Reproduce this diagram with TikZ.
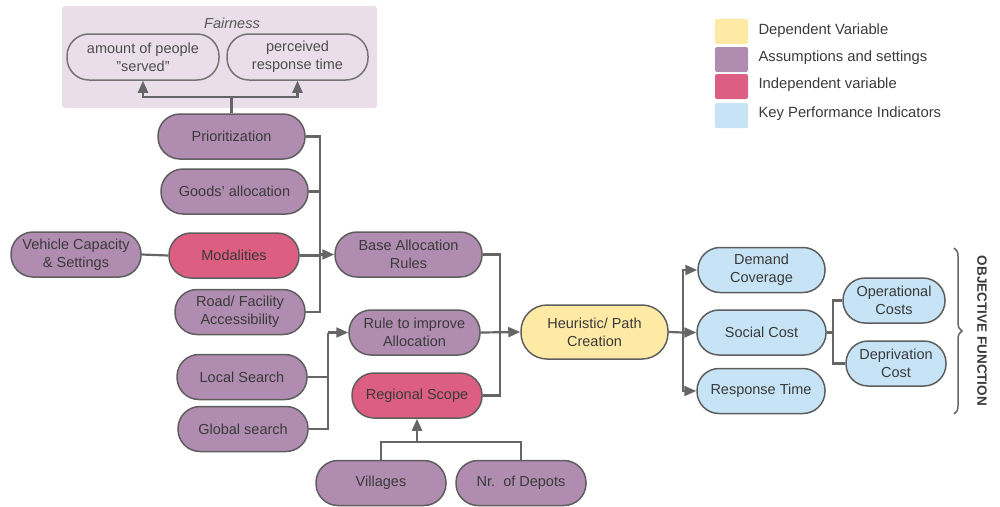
\documentclass[tikz,border=0pt]{standalone}
\usepackage{fontspec}
\setmainfont{Liberation Sans}
\usetikzlibrary{arrows.meta,decorations.pathreplacing}
\definecolor{purp}{HTML}{B08DB0}
\definecolor{pinkc}{HTML}{DC5E82}
\definecolor{yell}{HTML}{FFEAA5}
\definecolor{bluec}{HTML}{C6E4F5}
\definecolor{fairbg}{HTML}{E9DEE9}
\definecolor{linec}{HTML}{666666}
\definecolor{borderc}{HTML}{5E5E5E}
\definecolor{txtc}{HTML}{3A3A3A}
\tikzset{
  pill/.style={draw=borderc, line width=1.5pt, rounded corners=22pt, minimum height=45pt, inner sep=0pt, align=center, text=txtc, font=\fontsize{14.5}{18}\selectfont},
  ap/.style={pill, fill=purp},
  ip/.style={pill, fill=pinkc},
  dp/.style={pill, fill=yell},
  kp/.style={pill, fill=bluec},
  fp/.style={pill, draw=linec!90, fill=fairbg, text=txtc!90},
  conn/.style={draw=linec, line width=2.2pt},
  arr/.style={conn, -{Triangle[length=12pt,width=10pt]}},
  legsq/.style={rounded corners=2pt, minimum width=33pt, minimum height=25pt, inner sep=0pt},
  legtxt/.style={anchor=west, text=txtc, font=\fontsize{14.8}{18}\selectfont},
}
\begin{document}
\begin{tikzpicture}[x=1pt,y=-1pt]
\useasboundingbox (0,0) rectangle (1000,506);
% Fairness group
\node[fill=fairbg, rounded corners=3pt, minimum width=315pt, minimum height=102pt, inner sep=0pt] (fairbox) at (219.5,57) {};
\node[text=txtc!85, font=\itshape\fontsize{14.5}{18}\selectfont] (fairt) at (232,23) {Fairness};
\node[fp, minimum width=152pt, minimum height=46pt] (amount) at (143,57) {amount of people\\\symbol{34}served\symbol{34}};
\node[fp, minimum width=141pt, minimum height=46pt] (perc) at (297.5,57) {perceived\\response time};

% Assumption nodes
\node[ap, minimum width=147pt] (prio) at (231.5,136.5) {Prioritization};
\node[ap, minimum width=147pt] (goods) at (234.5,191.5) {Goods\symbol{39} allocation};
\node[ap, minimum width=130pt] (veh) at (76,254.5) {Vehicle Capacity\\\& Settings};
\node[ip, minimum width=130pt] (mod) at (234,255.5) {Modalities};
\node[ap, minimum width=130pt] (road) at (240,312) {Road/ Facility\\Accessibility};
\node[ap, minimum width=147pt] (base) at (408.5,254.5) {Base Allocation\\Rules};
\node[ap, minimum width=131pt] (rule) at (414.5,332.5) {Rule to improve\\Allocation};
\node[ap, minimum width=130pt] (local) at (242,377) {Local Search};
\node[ap, minimum width=130pt] (global) at (243,429) {Global search};
\node[ip, minimum width=130pt] (reg) at (417,395.5) {Regional Scope};
\node[ap, minimum width=130pt] (vill) at (381,483) {Villages};
\node[ap, minimum width=130pt] (depots) at (521,483) {Nr.\ \ of Depots};
\node[dp, minimum width=147pt, minimum height=54pt, rounded corners=26pt] (heur) at (594.5,332) {Heuristic/ Path\\Creation};

% KPIs
\node[kp, minimum width=127pt] (dem) at (761.5,270) {Demand\\Coverage};
\node[kp, minimum width=129pt] (soc) at (761.5,332.5) {Social Cost};
\node[kp, minimum width=128pt] (resp) at (761,391) {Response Time};
\node[kp, minimum width=102pt] (oper) at (894,300.5) {Operational\\Costs};
\node[kp, minimum width=100pt] (depr) at (896,363.5) {Deprivation\\Cost};

% Brace and label
\coordinate (bt) at (954,248);
\coordinate (bb) at (954,414);
\draw[draw=linec, line width=1.5pt, decorate, decoration={brace, amplitude=8pt}] (bt) -- (bb);
\node[rotate=-90, text=txtc, font=\bfseries\fontsize{13.5}{16}\selectfont] (obj) at (982,331) {OBJECTIVE FUNCTION};

% Legend
\node[legsq, fill=yell] (l1) at (731.5,31.5) {};
\node[legsq, fill=purp] (l2) at (731.5,59.5) {};
\node[legsq, fill=pinkc] (l3) at (731.5,86.5) {};
\node[legsq, fill=bluec] (l4) at (731.5,115.5) {};
\node[legtxt] (t1) at (755,31) {Dependent Variable};
\node[legtxt] (t2) at (755,58) {Assumptions and settings};
\node[legtxt] (t3) at (755,85) {Independent variable};
\node[legtxt] (t4) at (755,114) {Key Performance Indicators};

% Connectors
\coordinate (f1) at (231.5,97);
\draw[conn] (prio.north) -- (f1);
\draw[arr] (f1) -| (amount.south);
\draw[arr] (f1) -| (perc.south);

\coordinate (j1) at (320,254.5);
\draw[conn] (prio.east) -| (j1);
\draw[conn] (goods.east) -| (j1);
\draw[conn] (road.east) -| (j1);
\draw[conn] (mod.east) -- (mod.east -| j1);
\draw[arr] (j1) -- (base.west);
\draw[conn] (veh.east) -- (mod.west);

\coordinate (j2) at (500,332.5);
\draw[conn] (base.east) -| (j2);
\draw[conn] (reg.east) -| (j2);
\draw[arr] (rule.east) -- (heur.west);

\coordinate (j3) at (328,332.5);
\draw[conn] (local.east) -| (j3);
\draw[conn] (global.east) -| (j3);
\draw[arr] (j3) -- (rule.west);

\coordinate (j4) at (417,442);
\draw[conn] (vill.north) |- (j4);
\draw[conn] (depots.north) |- (j4);
\draw[arr] (j4) -- (reg.south);

\coordinate (j5) at (683,332.5);
\draw[conn] (heur.east) -- (j5);
\draw[arr] (j5) |- (dem.west);
\draw[arr] (j5) -- (soc.west);
\draw[arr] (j5) |- (resp.west);

\coordinate (j6) at (833,332.5);
\draw[conn] (soc.east) -- (j6);
\draw[conn] (j6) |- (oper.west);
\draw[conn] (j6) |- (depr.west);
\end{tikzpicture}
\end{document}
